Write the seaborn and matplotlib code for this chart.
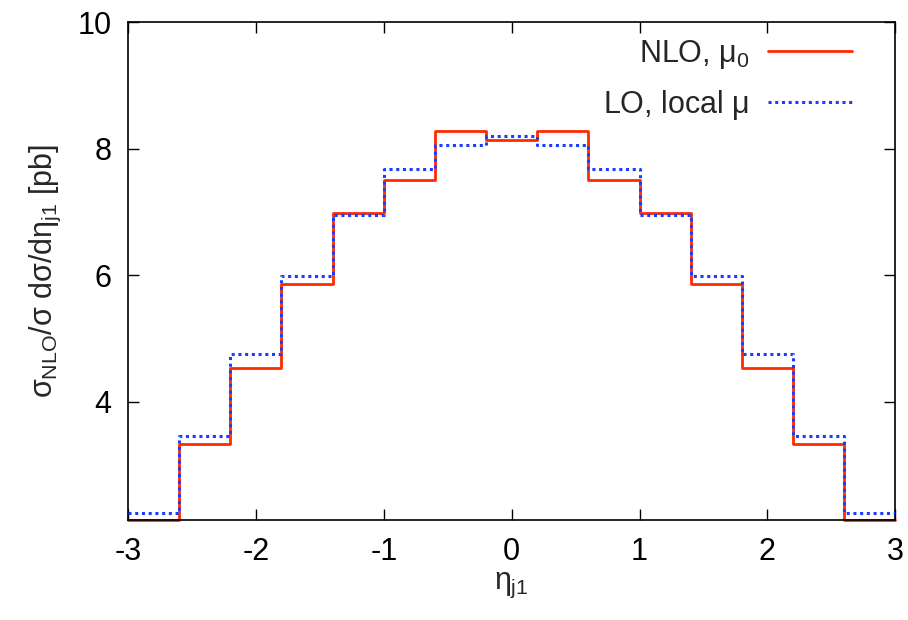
import numpy as np
import pandas as pd
import matplotlib
matplotlib.use("Agg")
import matplotlib.pyplot as plt
import seaborn as sns

# Bin edges in eta_j1 and the per-bin distributions
bin_edges = [-3.0, -2.6, -2.2, -1.8, -1.4, -1.0, -0.6, -0.2,
             0.2, 0.6, 1.0, 1.4, 1.8, 2.2, 2.6, 3.0]
nlo_mu0 = [2.13, 3.33, 4.53, 5.86, 6.99, 7.51, 8.28, 8.14,
           8.28, 7.51, 6.99, 5.86, 4.53, 3.33, 2.13]
lo_local_mu = [2.25, 3.46, 4.76, 5.99, 6.96, 7.68, 8.06, 8.21,
               8.06, 7.68, 6.96, 5.99, 4.76, 3.46, 2.25]
x_ticks = [-3, -2, -1, 0, 1, 2, 3]
y_ticks = [4, 6, 8, 10]

sns.set_theme(style="white")
plt.rcParams["font.family"] = ["Liberation Sans", "DejaVu Sans"]
plt.rcParams["mathtext.fontset"] = "custom"
plt.rcParams["mathtext.rm"] = "Liberation Sans"
plt.rcParams["mathtext.it"] = "Liberation Sans"

def step_frame(values, label):
    # repeat the last value so steps-post closes the final bin
    return pd.DataFrame({"eta": bin_edges,
                         "val": list(values) + [values[-1]],
                         "series": label})

fig = plt.figure(figsize=(9.08, 6.2), dpi=100)
ax = fig.add_axes([0.141, 0.161, 0.845, 0.803])

sns.lineplot(data=step_frame(nlo_mu0, r"NLO, $\mu_0$"), x="eta", y="val",
             drawstyle="steps-post", color="#ff2a00", linewidth=2.0,
             ax=ax, label=r"NLO, $\mu_0$", clip_on=False, zorder=2)
sns.lineplot(data=step_frame(lo_local_mu, r"LO, local $\mu$"), x="eta", y="val",
             drawstyle="steps-post", color="#1a3cff", linewidth=2.2,
             linestyle=(0, (1, 1.2)), ax=ax, label=r"LO, local $\mu$",
             zorder=3)

ax.set_xlim(-3, 3)
ax.set_ylim(2.13, 10)
ax.set_xticks(x_ticks)
ax.set_xticklabels([str(t) for t in x_ticks])
ax.set_yticks(y_ticks)
ax.set_yticklabels([str(t) for t in y_ticks])
ax.tick_params(direction="in", length=8, width=1, labelsize=22,
               top=True, right=True, bottom=True, left=True, pad=12,
               colors="black")
for s in ax.spines.values():
    s.set_color("black")
    s.set_linewidth(1.2)

ax.set_xlabel(r"$\eta_{\rm j1}$", fontsize=22, labelpad=2)
ax.set_ylabel(r"$\sigma_{\rm NLO}$/$\sigma$ d$\sigma$/d$\eta_{\rm j1}$ [pb]",
              fontsize=22, labelpad=10)

leg = ax.legend(loc="upper right", frameon=False, markerfirst=False,
                fontsize=22, handlelength=2.75, handletextpad=0.6,
                labelspacing=0.55, borderaxespad=0.2,
                bbox_to_anchor=(0.967, 1.005))

fig.savefig("out.png", dpi=100)
